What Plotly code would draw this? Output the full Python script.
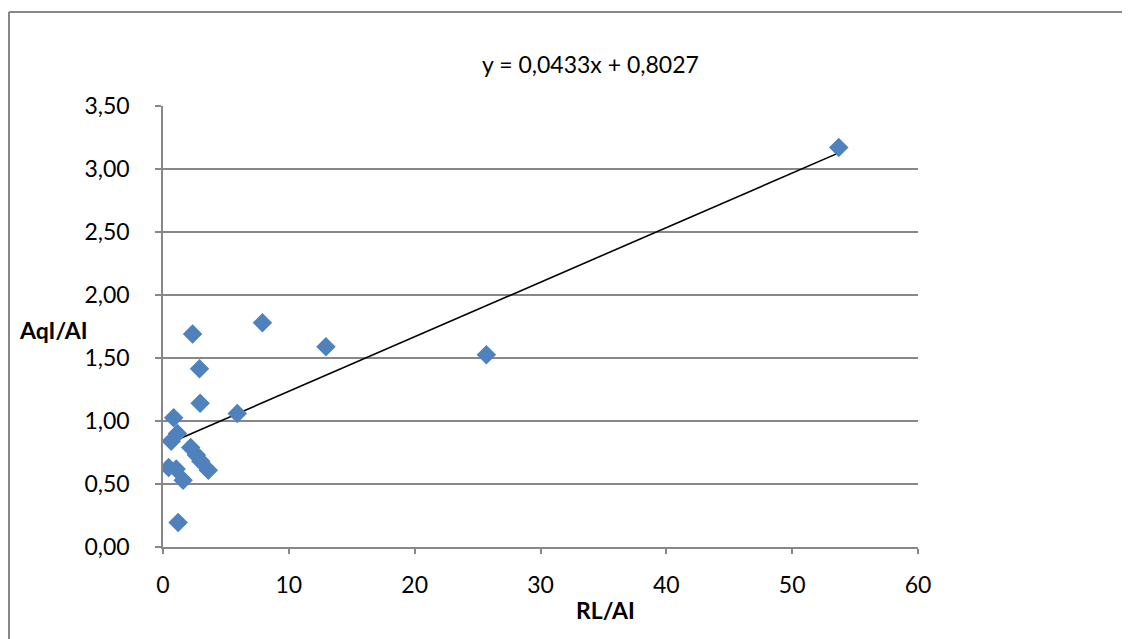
import plotly.graph_objects as go

# Data
rl_ai = [53.7, 25.7, 12.95, 7.9, 5.9, 2.35, 2.9, 2.95, 0.85, 1.15, 0.65,
         2.2, 2.65, 3.0, 3.6, 0.45, 1.05, 1.6, 1.2]
aqi_ai = [3.17, 1.525, 1.59, 1.78, 1.06, 1.69, 1.415, 1.14, 1.025, 0.9, 0.84,
          0.79, 0.73, 0.68, 0.61, 0.63, 0.62, 0.53, 0.195]

slope = 0.0433
intercept = 0.8027
equation_text = "y = 0,0433x + 0,8027"

x_ticks = [0, 10, 20, 30, 40, 50, 60]
y_ticks = [0, 0.5, 1.0, 1.5, 2.0, 2.5, 3.0, 3.5]

trend_x = [min(rl_ai), max(rl_ai)]
trend_y = [slope * v + intercept for v in trend_x]

FONT = "Lato, 'Open Sans', sans-serif"
GRID = "#878787"
FS = 23

# plot area in page pixels (page has an 8px body margin)
PX0, PX1, PY0, PY1 = 163, 918, 106, 547


def px(x):
    return (x - PX0) / (PX1 - PX0)


def py(y):
    return (PY1 - y) / (PY1 - PY0)


fig = go.Figure()
fig.add_trace(go.Scatter(
    x=trend_x, y=trend_y, mode="lines",
    line=dict(color="black", width=1.6),
    hoverinfo="skip", showlegend=False))
fig.add_trace(go.Scatter(
    x=rl_ai, y=aqi_ai, mode="markers",
    marker=dict(symbol="diamond", size=15, color="#4F81BD",
                line=dict(width=0)),
    showlegend=False))

fig.update_layout(
    width=1122, height=631,
    margin=dict(l=PX0 - 8, r=1122 - (PX1 - 8), t=PY0 - 8, b=631 - (PY1 - 8),
                pad=0),
    paper_bgcolor="white", plot_bgcolor="white",
    separators=",.",
    font=dict(family=FONT, size=FS, color="black"),
    xaxis=dict(range=[0, 60], tickvals=x_ticks, showgrid=False,
               zeroline=False, showline=True, linecolor=GRID, linewidth=1.5,
               ticks="outside", ticklen=5, tickcolor=GRID, tickwidth=1.5,
               ticklabelstandoff=12, tickfont=dict(size=FS)),
    yaxis=dict(range=[0, 3.5], tickvals=y_ticks, tickformat=".2f",
               showgrid=True, gridcolor=GRID, gridwidth=1.5,
               zeroline=False, showline=True, linecolor=GRID, linewidth=1.5,
               ticks="outside", ticklen=6, tickcolor=GRID, tickwidth=1.5,
               ticklabelstandoff=21, tickfont=dict(size=FS)),
    annotations=[
        dict(text=equation_text, x=px(590), y=py(64), xref="paper",
             yref="paper", xanchor="center", yanchor="middle",
             showarrow=False, font=dict(size=FS)),
        dict(text="<b>RL/AI</b>", x=px(605), y=py(610), xref="paper",
             yref="paper", xanchor="center", yanchor="middle",
             showarrow=False, font=dict(size=FS)),
        dict(text="<b>AqI/AI</b>", x=px(17), y=py(330),
             xref="paper", yref="paper", xanchor="left", yanchor="middle",
             showarrow=False, font=dict(size=FS)),
    ],
    shapes=[
        dict(type="line", xref="paper", yref="paper",
             x0=px(9), x1=px(1135), y0=py(12), y1=py(12),
             line=dict(color=GRID, width=2), layer="below"),
        dict(type="line", xref="paper", yref="paper",
             x0=px(9), x1=px(9), y0=py(12), y1=py(660),
             line=dict(color=GRID, width=2), layer="below"),
    ],
)

fig.write_html("out.html")
